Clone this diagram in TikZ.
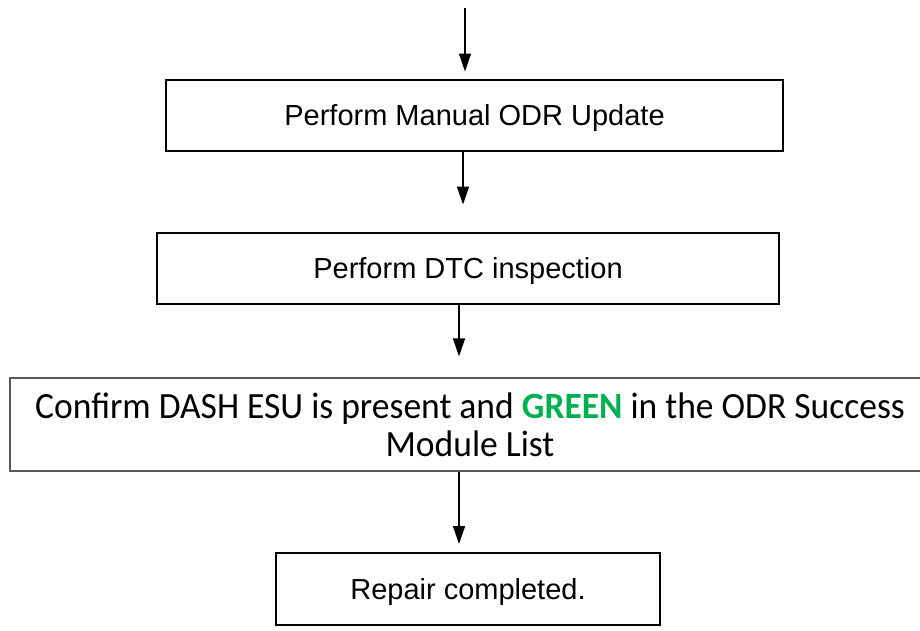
\documentclass[tikz,border=0pt]{standalone}
\usepackage{fontspec}
\setmainfont{Liberation Sans}
\newfontfamily\notefont[FakeStretch=0.96]{Carlito}
\usetikzlibrary{positioning,arrows.meta}
\definecolor{okgreen}{RGB}{0,176,80}
\tikzset{
	>={Triangle[length=18pt,width=12pt]},
	stepbox/.style={draw, line width=2pt, minimum height=71pt, inner sep=0pt,
		text depth=0pt, font=\fontsize{29}{34}\selectfont},
	notebox/.style={draw=black!65, line width=1.2pt, minimum height=93pt, inner sep=0pt,
		align=center, font=\notefont\fontsize{37}{38}\selectfont},
	flow/.style={->, line width=1.5pt},
}

\begin{document}
\begin{tikzpicture}[x=1pt, y=1pt]
	\useasboundingbox (0,0) rectangle (920,-630);
	\coordinate (entry) at (465,-8);
	\node[stepbox, minimum width=617pt] (odr) at (474.5,-115) {Perform Manual ODR Update};
	\node[stepbox, minimum width=622pt] (dtc) at (468,-268) {Perform DTC inspection};
	\node[notebox, minimum width=920pt] (esu) at (470,-424.5)
		{Confirm DASH ESU is present and \textbf{\textcolor{okgreen}{GREEN}} in the ODR Success\\Module List};
	\node[stepbox, minimum width=384pt, minimum height=72pt] (done) at (468,-589) {Repair completed.};

	\draw[flow, shorten >=7pt] (entry) -- ([xshift=-9.5pt]odr.north);
	\draw[flow, shorten >=27pt] ([xshift=-11.5pt]odr.south) -- ([xshift=-5pt]dtc.north);
	\draw[flow, shorten >=21pt] ([xshift=-9pt]dtc.south) -- ([xshift=-11pt]esu.north);
	\draw[flow, shorten >=8pt] ([xshift=-11pt]esu.south) -- ([xshift=-9pt]done.north);
\end{tikzpicture}
\end{document}
